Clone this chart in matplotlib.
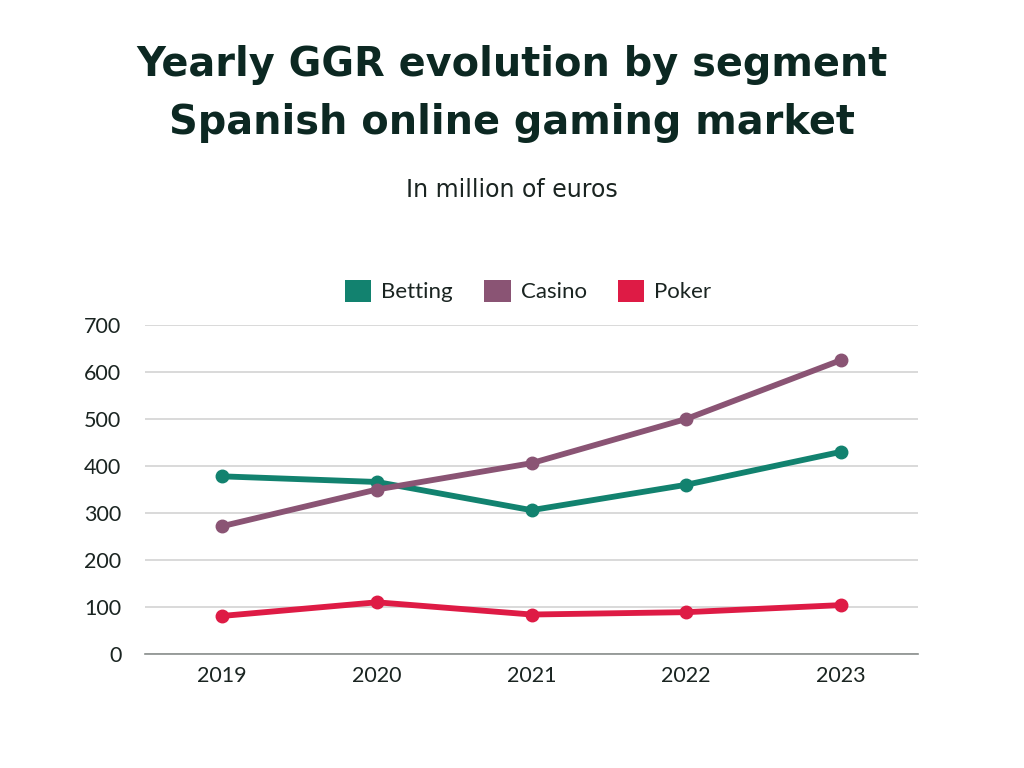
import matplotlib
matplotlib.use("Agg")
import matplotlib.pyplot as plt
from matplotlib.patches import Patch

years = ["2019", "2020", "2021", "2022", "2023"]
betting = [378, 366, 306, 360, 430]
casino = [272, 350, 406, 500, 625]
poker = [81, 110, 84, 89, 104]
series_names = ["Betting", "Casino", "Poker"]
colors = ["#12826f", "#8a5474", "#de1b45"]
yticks = [0, 100, 200, 300, 400, 500, 600, 700]

title_color = "#0c2822"
text_color = "#1a2421"
FONT = ["Lato", "DejaVu Sans"]
TFONT = ["DejaVu Sans"]

fig = plt.figure(figsize=(10.24, 7.68), dpi=100)
ax = fig.add_axes([145/1024, 1-654/768, (918-145)/1024, (654-325)/768])

x = list(range(len(years)))
for vals, c in zip([betting, casino, poker], colors):
    ax.plot(x, vals, color=c, lw=4.2, marker="o", ms=9, solid_capstyle="round", zorder=3)

ax.set_xlim(-0.5, len(years) - 0.5)
ax.set_ylim(0, 700)
ax.set_yticks(yticks)
ax.set_xticks(x)
ax.set_xticklabels(years)
for sp in ["top", "right", "left"]:
    ax.spines[sp].set_visible(False)
ax.spines["bottom"].set_color("#8a8f8d")
ax.spines["bottom"].set_linewidth(1.2)
ax.grid(axis="y", color="#d3d3d3", lw=1.2, zorder=0)
ax.set_axisbelow(True)
ax.tick_params(length=0, labelsize=15.5, colors=text_color)
ax.tick_params(axis="x", pad=9)
ax.tick_params(axis="y", pad=17)
for lab in ax.get_xticklabels() + ax.get_yticklabels():
    lab.set_family(FONT)

fig.text(0.5, 1-65/768, "Yearly GGR evolution by segment", ha="center", va="center",
         fontsize=28.7, fontweight="bold", color=title_color, family=TFONT)
fig.text(0.5, 1-123/768, "Spanish online gaming market", ha="center", va="center",
         fontsize=28.7, fontweight="bold", color=title_color, family=TFONT)
fig.text(0.5, 1-190/768, "In million of euros", ha="center", va="center",
         fontsize=17, color=text_color, family=TFONT)

handles = [Patch(facecolor=c, edgecolor="none") for c in colors]
leg = fig.legend(handles, series_names, loc="center", bbox_to_anchor=(528/1024, 1-291/768),
                 ncol=3, frameon=False, handlelength=1.2, handleheight=1.2,
                 columnspacing=1.4, handletextpad=0.45,
                 prop={"family": FONT, "size": 16})
for t in leg.get_texts():
    t.set_color(text_color)

fig.savefig("out.png", dpi=100, facecolor="white")
